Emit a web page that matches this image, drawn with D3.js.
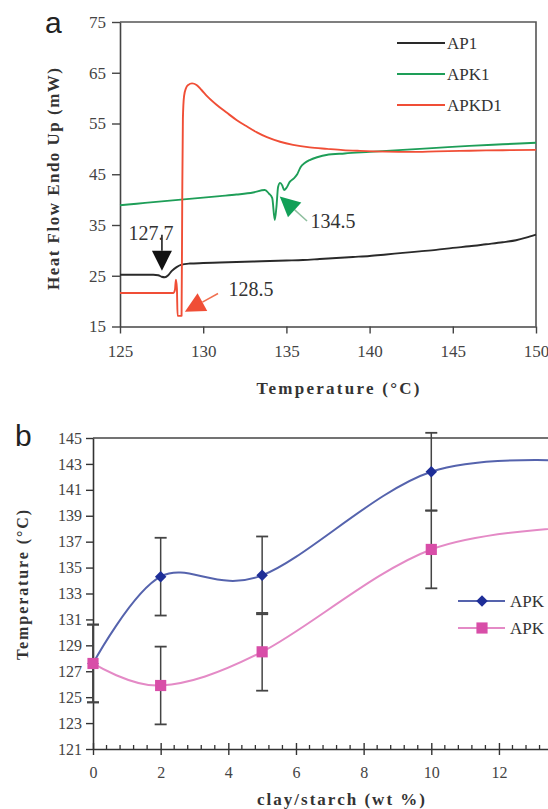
<!DOCTYPE html>
<html><head><meta charset="utf-8">
<script src="https://cdn.jsdelivr.net/npm/d3@7"></script>
<style>body{margin:0;background:#fff}svg{display:block}</style>
</head><body><svg id="c" width="548" height="809"></svg>
<script>
// ---------- Panel a data (DSC curves) ----------
const ap1Temp  = [125,126,127,127.3,127.5,127.7,127.9,128.1,128.4,128.7,129.2,130,131,132,133,134,135,136,137,138,139,140,141,142,143,144,145,146,147,148,148.8,149.4,150];
const ap1Flow  = [25.2,25.2,25.2,25.1,24.8,24.7,25.1,25.9,26.7,27.2,27.4,27.5,27.6,27.7,27.8,27.9,28.0,28.1,28.3,28.5,28.7,28.9,29.2,29.5,29.8,30.1,30.5,30.8,31.2,31.6,32.0,32.5,33.1];
const apk1Temp = [125,126,127,128,129,130,131,132,133,133.7,133.95,134.15,134.3,134.4,134.5,134.62,134.75,134.86,135.0,135.2,135.45,135.65,135.85,136.1,136.4,136.9,137.4,138.5,140,142,144,146,148,150];
const apk1Flow = [38.9,39.2,39.5,39.8,40.1,40.4,40.7,41.0,41.4,41.9,41.2,40.3,36.0,38.5,42.5,43.3,42.8,41.9,42.3,43.5,44.2,45.0,46.4,47.2,47.8,48.4,48.8,49.1,49.4,49.8,50.2,50.6,50.9,51.2];
const apkd1Temp = [125,126,127,128,128.2,128.3,128.36,128.42,128.46,128.7,128.74,128.78,128.85,128.97,129.1,129.33,129.6,129.9,130.23,130.8,131.43,132.0,132.63,133.2,133.83,134.62,135.4,136.4,137.44,138.4,139.42,141,142.43,144,145.43,147,148.5,150];
const apkd1Flow = [21.6,21.6,21.6,21.6,21.6,22.2,24.2,22.5,17.1,17.1,40,56,60.4,62.0,62.6,62.9,62.6,61.6,60.4,58.7,57.1,55.7,54.4,53.3,52.3,51.4,50.8,50.3,50.0,49.75,49.6,49.45,49.4,49.5,49.6,49.7,49.75,49.8];
const seriesA = ["AP1","APK1","APKD1"];
const aXTicks = [125,130,135,140,145,150];
const aYTicks = [15,25,35,45,55,65,75];
// annotations: label, label position [temp, flow], arrow tail, arrow tip
const annLabels = ["127.7","128.5","134.5"];
const annLabelPos = [[126.86,32.0],[132.87,21.1],[137.8,34.5]];
const annTail = [[127.52,33.1],[130.89,21.5],[136.24,35.8]];
const annTip  = [[127.52,26.0],[128.9,17.9],[134.6,40.6]];

// ---------- Panel b data ----------
const clay = [0,2,5,10,15];
const apkTm  = [127.6,134.3,134.4,142.4,143.1];
const apkdTm = [127.6,125.9,128.5,136.4,138.2];
const errTm  = [3,3,3,3];
const seriesB = ["APK","APK"];
const bXTicks = [0,2,4,6,8,10,12];
const bYTicks = [121,123,125,127,129,131,133,135,137,139,141,143,145];

const svg = d3.select("#c");
const serif = "'Liberation Serif','Times New Roman',serif";
const sans = "'Liberation Sans',Arial,sans-serif";
const colA = ["#2a2a2a","#1e9e58","#f04e36"];

// ================= Panel a =================
const xA = d3.scaleLinear().domain([125,150]).range([120,536]);
const yA = d3.scaleLinear().domain([15,75]).range([326.5,22]);
const gA = svg.append("g");

// frame (top & right)
gA.append("path").attr("d", `M${xA(125)},${yA(75)}H${xA(150)}V${yA(15)}`)
  .attr("fill","none").attr("stroke","#555").attr("stroke-width",1.6);

const axA_y = gA.append("g").attr("transform",`translate(${xA(125)},0)`)
  .call(d3.axisLeft(yA).tickValues(aYTicks).tickSize(8).tickSizeOuter(0).tickPadding(6));
const axA_x = gA.append("g").attr("transform",`translate(0,${yA(15)})`)
  .call(d3.axisBottom(xA).tickValues(aXTicks).tickSize(7).tickSizeOuter(0).tickPadding(11));
[axA_y, axA_x].forEach(a => {
  a.attr("font-family",null).attr("font-size",null);
  a.select(".domain").attr("stroke","#444").attr("stroke-width",1.6);
  a.selectAll(".tick line").attr("stroke","#444").attr("stroke-width",1.4);
  a.selectAll(".tick text").attr("fill","#444").style("font-family",serif).style("font-size","17px");
});

const lineA = d3.line().x(d=>xA(d[0])).y(d=>yA(d[1])).curve(d3.curveMonotoneX);
const dataA = [d3.zip(ap1Temp,ap1Flow), d3.zip(apk1Temp,apk1Flow), d3.zip(apkd1Temp,apkd1Flow)];
dataA.forEach((d,i)=>{
  gA.append("path").datum(d).attr("d",lineA).attr("fill","none")
    .attr("stroke",colA[i]).attr("stroke-width",1.9).attr("stroke-linejoin","round");
});

// annotations
const annCol = ["#111","#f04e36","#12a058"];
const annLineCol = ["#111","#f07050","#8fbf9f"];
annLabels.forEach((t,i)=>{
  const x1=xA(annTail[i][0]), y1=yA(annTail[i][1]), x2=xA(annTip[i][0]), y2=yA(annTip[i][1]);
  const dx=x2-x1, dy=y2-y1, L=Math.hypot(dx,dy), ux=dx/L, uy=dy/L;
  const hl=20, hw=10, bx=x2-ux*hl, by=y2-uy*hl;
  gA.append("line").attr("x1",x1).attr("y1",y1).attr("x2",bx).attr("y2",by)
    .attr("stroke",annLineCol[i]).attr("stroke-width",1.5);
  gA.append("path").attr("d",`M${x2},${y2}L${bx-uy*hw},${by+ux*hw}L${bx+uy*hw},${by-ux*hw}Z`)
    .attr("fill",annCol[i]);
  gA.append("text").attr("x",xA(annLabelPos[i][0])).attr("y",yA(annLabelPos[i][1]))
    .attr("text-anchor","middle").style("font-family",serif).style("font-size","20px")
    .attr("fill","#333").text(t);
});

// legend a
seriesA.forEach((s,i)=>{
  const y = 43 + i*31;
  gA.append("line").attr("x1",397).attr("x2",445).attr("y1",y).attr("y2",y)
    .attr("stroke",colA[i]).attr("stroke-width",1.9);
  gA.append("text").attr("x",447).attr("y",y+6).style("font-family",serif).style("font-size","17px")
    .attr("fill","#333").text(s);
});

// titles a
gA.append("text").attr("x",45).attr("y",33).style("font-family",sans).style("font-size","30px")
  .attr("fill","#222").text("a");
gA.append("text").attr("transform","translate(59,179) rotate(-90)").attr("text-anchor","middle")
  .style("font-family",serif).style("font-size","17px").style("font-weight","bold").attr("fill","#333")
  .attr("textLength",222).attr("lengthAdjust","spacing").text("Heat Flow Endo Up (mW)");
gA.append("text").attr("x",338).attr("y",394).attr("text-anchor","middle")
  .style("font-family",serif).style("font-size","17px").style("font-weight","bold").attr("fill","#333")
  .attr("textLength",163).attr("lengthAdjust","spacing").text("Temperature (°C)");

// ================= Panel b =================
const xB = d3.scaleLinear().domain([0,13.45]).range([93,548]);
const yB = d3.scaleLinear().domain([121,145]).range([749,438]);
const gB = svg.append("g");

gB.append("line").attr("x1",xB(0)).attr("x2",xB(13.45)).attr("y1",yB(145)).attr("y2",yB(145))
  .attr("stroke","#444").attr("stroke-width",1.6);

const axB_y = gB.append("g").attr("transform",`translate(${xB(0)},0)`)
  .call(d3.axisLeft(yB).tickValues(bYTicks).tickSize(7).tickSizeOuter(0).tickPadding(4));
const axB_x = gB.append("g").attr("transform",`translate(0,${yB(121)})`)
  .call(d3.axisBottom(xB).tickValues(bXTicks).tickSize(6).tickSizeOuter(0).tickPadding(12));
[axB_y, axB_x].forEach(a => {
  a.attr("font-family",null).attr("font-size",null);
  a.select(".domain").attr("stroke","#333").attr("stroke-width",1.6);
  a.selectAll(".tick line").attr("stroke","#333").attr("stroke-width",1.4);
  a.selectAll(".tick text").attr("fill","#444").style("font-family",serif).style("font-size","16px");
});
// major ticks also cross above the axis
axB_x.selectAll(".tick line").attr("y1",-6);
// minor ticks every 0.4
const minorB = d3.range(0, 13.45, 0.4).filter(v => Math.abs(v/2 - Math.round(v/2)) > 1e-6);
gB.append("g").selectAll("line").data(minorB).join("line")
  .attr("x1",d=>xB(d)).attr("x2",d=>xB(d)).attr("y1",yB(121)).attr("y2",yB(121)-4)
  .attr("stroke","#333").attr("stroke-width",1.3);

const lineB = d3.line().x(d=>xB(d[0])).y(d=>yB(d[1])).curve(d3.curveCardinal.tension(0));
const colLine = ["#5563ad","#e48ac6"], colMark = ["#1e2e98","#d84ea8"];
const dataB = [d3.zip(clay,apkTm), d3.zip(clay,apkdTm)];

// error bars
dataB.forEach((d)=>{
  d.slice(0,errTm.length).forEach((p,j)=>{
    const x=xB(p[0]), e=errTm[j];
    gB.append("line").attr("x1",x).attr("x2",x).attr("y1",yB(p[1]-e)).attr("y2",yB(p[1]+e))
      .attr("stroke","#444").attr("stroke-width",1.5);
    [p[1]-e,p[1]+e].forEach(v=>gB.append("line").attr("x1",x-6).attr("x2",x+6)
      .attr("y1",yB(v)).attr("y2",yB(v)).attr("stroke","#444").attr("stroke-width",1.8));
  });
});
dataB.forEach((d,i)=>{
  gB.append("path").datum(d).attr("d",lineB).attr("fill","none")
    .attr("stroke",colLine[i]).attr("stroke-width",2);
});
const symB = [d3.symbol(d3.symbolSquare,66)(), d3.symbol(d3.symbolSquare,125)()];
const rotB = [45,0];
dataB.forEach((d,i)=>{
  gB.append("g").selectAll("path").data(d.slice(0,4)).join("path")
    .attr("d",symB[i]).attr("fill",colMark[i])
    .attr("transform",p=>`translate(${xB(p[0])},${yB(p[1])}) rotate(${rotB[i]})`);
});

// legend b
seriesB.forEach((s,i)=>{
  const y = 601 + i*27;
  gB.append("line").attr("x1",458).attr("x2",505).attr("y1",y).attr("y2",y)
    .attr("stroke",colLine[i]).attr("stroke-width",2);
  gB.append("path").attr("d",symB[i]).attr("fill",colMark[i])
    .attr("transform",`translate(482,${y}) rotate(${rotB[i]})`);
  gB.append("text").attr("x",510).attr("y",y+6).style("font-family",serif).style("font-size","17px")
    .attr("fill","#333").text(s);
});

// titles b
gB.append("text").attr("x",15).attr("y",446).style("font-family",sans).style("font-size","30px")
  .attr("fill","#222").text("b");
gB.append("text").attr("transform","translate(28,585) rotate(-90)").attr("text-anchor","middle")
  .style("font-family",serif).style("font-size","16px").style("font-weight","bold").attr("fill","#333")
  .attr("textLength",150).attr("lengthAdjust","spacing").text("Temperature (°C)");
gB.append("text").attr("x",341).attr("y",805).attr("text-anchor","middle")
  .style("font-family",serif).style("font-size","17px").style("font-weight","bold").attr("fill","#333")
  .attr("textLength",168).attr("lengthAdjust","spacing").text("clay/starch (wt %)");
</script></body></html>
